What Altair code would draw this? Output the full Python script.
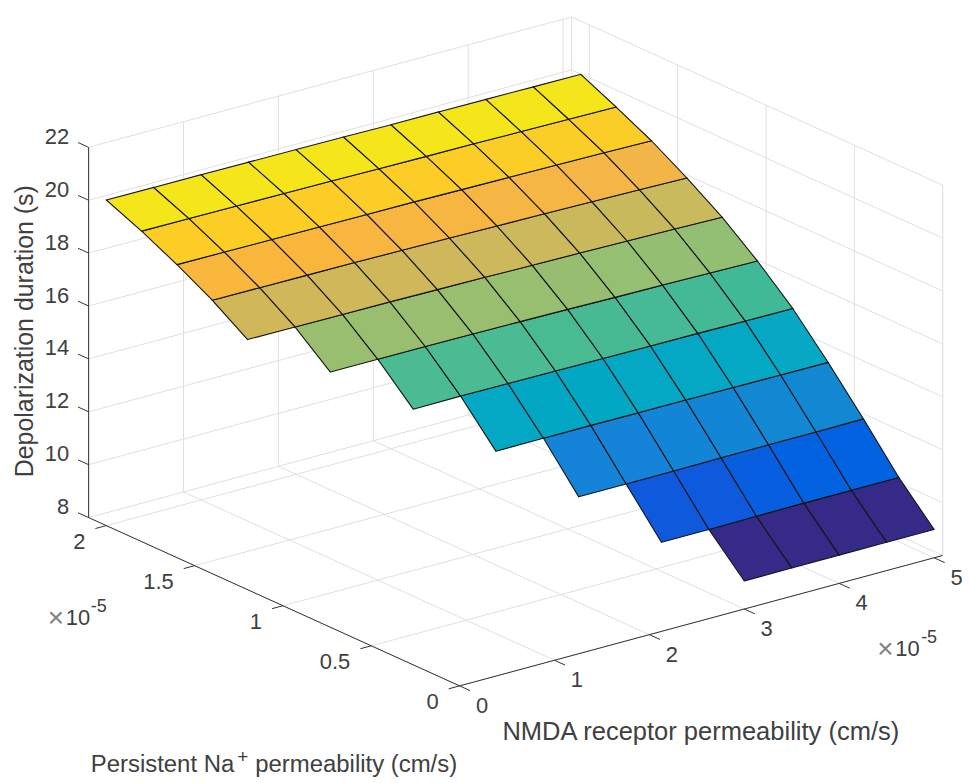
import altair as alt

# --- data -----------------------------------------------------------------
nmda = [0, 0.5, 1, 1.5, 2, 2.5, 3, 3.5, 4, 4.5, 5]          # x, 1e-5 cm/s
nap = [0, 0.2, 0.4, 0.6, 0.8, 1.0, 1.2, 1.4, 1.6, 1.8, 2.0]  # y, 1e-5 cm/s
N = None
z_00 = [N, N, N, N, N, N, 9.06, 9.07, 9.07, 9.07, 9.07]
z_02 = [N, N, N, N, N, 10.40, 10.40, 10.42, 10.43, 10.43, 10.43]
z_04 = [N, N, N, N, 12.00, 12.00, 12.01, 12.02, 12.03, 12.03, 12.04]
z_06 = [N, N, N, 13.60, 13.61, 13.61, 13.60, 13.60, 13.59, 13.58, 13.57]
z_08 = [N, N, 15.07, 15.08, 15.07, 15.06, 15.05, 15.04, 15.03, 15.01, 15.00]
z_10 = [N, 16.35, 16.35, 16.35, 16.34, 16.32, 16.30, 16.27, 16.25, 16.22, 16.19]
z_12 = [17.46, 17.45, 17.44, 17.43, 17.41, 17.39, 17.36, 17.34, 17.31, 17.28, 17.24]
z_14 = [18.34, 18.33, 18.32, 18.31, 18.29, 18.27, 18.24, 18.22, 18.19, 18.16, 18.12]
z_16 = [19.08, 19.07, 19.06, 19.05, 19.04, 19.03, 19.01, 18.99, 18.97, 18.95, 18.92]
z_18 = [19.74, 19.73, 19.72, 19.71, 19.70, 19.68, 19.66, 19.65, 19.63, 19.61, 19.59]
z_20 = [20.31, 20.30, 20.30, 20.29, 20.28, 20.27, 20.25, 20.25, 20.24, 20.23, 20.22]
surface = [z_00, z_02, z_04, z_06, z_08, z_10, z_12, z_14, z_16, z_18, z_20]

x_ticks = [0, 1, 2, 3, 4, 5]
y_ticks = [0, 0.5, 1, 1.5, 2]
y_tick_labels = ["0", "0.5", "1", "1.5", "2"]
z_ticks = [8, 10, 12, 14, 16, 18, 20, 22]
x_max, y_max = 5.09, 2.1

color_z = [9.06, 10.40, 10.43, 12.00, 12.04, 13.58, 15.00, 15.07, 16.19, 16.35,
           17.24, 17.46, 18.12, 18.34, 18.92, 19.08, 19.59, 19.74]
color_hex = ["#352A87", "#0F5ADC", "#0362E0", "#1584D8", "#1388D0", "#06A8C4",
             "#3EB998", "#4ABB92", "#90BF74", "#9ABE6F", "#C6BA5E", "#D0B85A",
             "#F1B64A", "#F9B63C", "#FBCD28", "#FCCD25", "#F4E61A", "#F4E61A"]

# --- view: orthographic camera of the 3-D axes ------------------------------
W, H = 955, 767
MARGIN = 8
OX, OY = 460.0, 686.8
XU = (95.2, -25.7)
YU = (-177.2, -80.4)
ZU = -26.53


def proj(x, y, z):
    return (OX + XU[0] * x + YU[0] * y - MARGIN,
            OY + XU[1] * x + YU[1] * y + ZU * (z - 8) - MARGIN)


def seg(a, b):
    p, q = proj(*a), proj(*b)
    return {"x": p[0], "y": p[1], "x2": q[0], "y2": q[1]}


grid = []
for x in x_ticks:
    grid.append(seg((x, 0, 8), (x, y_max, 8)))
    grid.append(seg((x, y_max, 8), (x, y_max, 22)))
for y in y_ticks:
    grid.append(seg((0, y, 8), (x_max, y, 8)))
    grid.append(seg((x_max, y, 8), (x_max, y, 22)))
for z in z_ticks:
    grid.append(seg((0, y_max, z), (x_max, y_max, z)))
    grid.append(seg((x_max, y_max, z), (x_max, 0, z)))
grid.append(seg((x_max, y_max, 8), (x_max, y_max, 22)))
grid.append(seg((x_max, 0, 8), (x_max, 0, 22)))

axes = [
    seg((0, 0, 8), (x_max, 0, 8)),
    seg((0, 0, 8), (0, y_max, 8)),
    seg((0, y_max, 8), (0, y_max, 22)),
]
for x in x_ticks:
    axes.append(seg((x, 0, 8), (x, -0.06, 8)))
for y in y_ticks:
    axes.append(seg((0, y, 8), (-0.115, y, 8)))
for z in z_ticks:
    axes.append(seg((0, y_max, z), (0, y_max + 0.06, z)))

labels = []
for x in x_ticks:
    p = proj(x, 0, 8)
    labels.append({"x": p[0] + 22.5, "y": p[1] + 20, "t": str(x), "a": "center"})
for y, t in zip(y_ticks, y_tick_labels):
    p = proj(0, y, 8)
    labels.append({"x": p[0] - 21, "y": p[1] + 16, "t": t, "a": "right"})
for z in z_ticks:
    p = proj(0, y_max, z)
    labels.append({"x": p[0] - 19.5, "y": p[1] - 10.5, "t": str(z), "a": "right"})

cells = []
for j in range(len(nap) - 1):
    for i in range(len(nmda) - 1):
        c = [(i, j), (i + 1, j), (i + 1, j + 1), (i, j + 1)]
        if any(surface[b][a] is None for a, b in c):
            continue
        ring = [list(proj(nmda[a], nap[b], surface[b][a])) for a, b in c]
        ring.append(ring[0])
        cells.append({"type": "Feature", "c": surface[j][i],
                      "geometry": {"type": "Polygon", "coordinates": [ring]}})

frame = [{"type": "Feature", "geometry": {"type": "Polygon", "coordinates": [
    [[0, 0], [W, 0], [W, H], [0, H], [0, 0]]]}}]

sx = alt.Scale(domain=[0, W], range=[0, W], nice=False, zero=False)
sy = alt.Scale(domain=[0, H], range=[0, H], nice=False, zero=False)
ex = alt.X("x:Q", scale=sx, axis=None)
ey = alt.Y("y:Q", scale=sy, axis=None)
FONT = "Liberation Sans"
INK = "#404040"

frame_layer = alt.Chart(alt.Data(values=frame)).mark_geoshape(
    fillOpacity=0, strokeOpacity=0).project(type="identity")
grid_layer = alt.Chart(alt.Data(values=grid)).mark_rule(
    color="#e0e0e0", strokeWidth=1).encode(ex, ey, x2="x2:Q", y2="y2:Q")
axes_layer = alt.Chart(alt.Data(values=axes)).mark_rule(
    color="#333333", strokeWidth=1).encode(ex, ey, x2="x2:Q", y2="y2:Q")
surface_layer = alt.Chart(alt.Data(values=cells)).mark_geoshape(
    stroke="#141414", strokeWidth=1.1).encode(
    color=alt.Color("c:Q", scale=alt.Scale(domain=color_z, range=color_hex), legend=None)
).project(type="identity")


def label_layer(rows, align):
    return alt.Chart(alt.Data(values=rows)).mark_text(
        font=FONT, fontSize=22, color=INK, align=align, baseline="middle"
    ).encode(ex, ey, text="t:N")


def fixed(text, px, py, size=25, align="left", color=INK, angle=0):
    kw = {"angle": angle} if angle else {}
    return alt.Chart(alt.Data(values=[{"t": text, "x": px - MARGIN, "y": py - MARGIN}])).mark_text(
        font=FONT, fontSize=size, color=color, align=align, baseline="middle", **kw
    ).encode(ex, ey, text="t:N")


layers = [frame_layer, grid_layer, axes_layer, surface_layer,
          label_layer([r for r in labels if r["a"] == "center"], "center"),
          label_layer([r for r in labels if r["a"] == "right"], "right"),
          fixed("NMDA receptor permeability (cm/s)", 503, 733.5, size=25.6),
          fixed("Persistent Na", 90, 766.5, size=24),
          fixed("+", 237, 758.5, size=19),
          fixed("permeability (cm/s)", 255, 766.5, size=24),
          fixed("Depolarization duration (s)", 24, 331, align="center", angle=270),
          fixed("×", 47, 620, size=28, color="#808080"),
          fixed("10", 65, 619, size=22),
          fixed("-5", 90, 608, size=18),
          fixed("×", 879, 651, size=28, color="#808080"),
          fixed("10", 897, 650, size=22),
          fixed("-5", 923, 639, size=18)]

chart = alt.layer(*layers).properties(
    width=W, height=H, padding=0, background="white"
).configure_view(stroke=None)

chart.save("out.html", embed_options={"renderer": "svg", "actions": False})
